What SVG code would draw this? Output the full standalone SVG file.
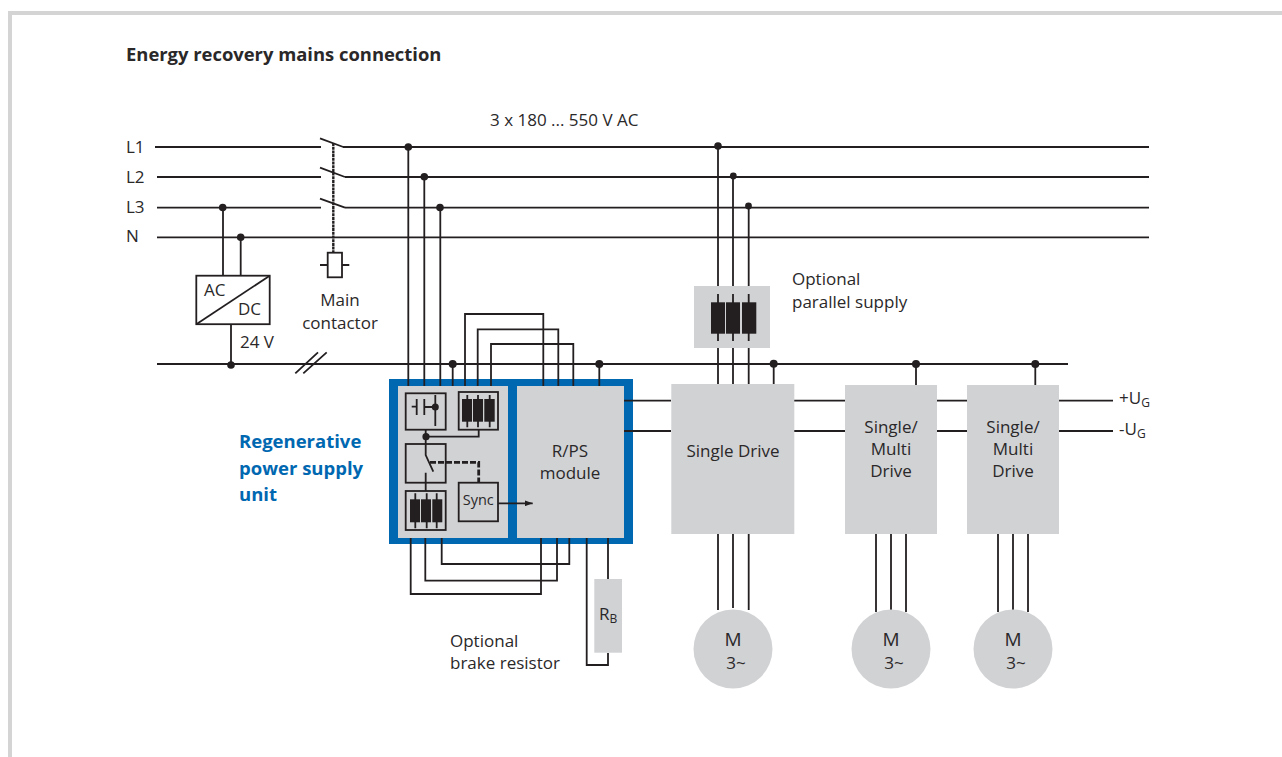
<svg xmlns="http://www.w3.org/2000/svg" width="1282" height="757" viewBox="0 0 1282 757">
<style>
text{font-family:"Open Sans","Noto Sans","Liberation Sans",sans-serif;font-size:17px;fill:#2a2829}
.m{text-anchor:middle}
.b{font-weight:700}
.title{font-size:18.4px}
.blue{font-size:18.5px;fill:#0067b1}
.big{font-size:19px}
.sy{font-size:14.5px}
.s{font-size:12px}
.l{fill:none;stroke:#231f20;stroke-width:1.8}
.box{fill:#d1d2d4;stroke:#231f20;stroke-width:1.8}
.g{fill:#d1d2d4}
.f{fill:#231f20}
</style>
<defs>
<marker id="arr" viewBox="0 0 8 6" refX="8" refY="3" markerWidth="8" markerHeight="6" markerUnits="userSpaceOnUse" orient="auto"><path d="M0 0L8 3L0 6Z" fill="#231f20"/></marker>
</defs>
<path d="M10 757V13H1282" fill="none" stroke="#d4d4d4" stroke-width="4"/>
<text class="b title" x="126" y="61">Energy recovery mains connection</text>
<g id="connectors">
<path class="l" d="M155 147H321M343 147H1149M157 177H321M345 177H1149M157 207.700H321M345 207.700H1149M157 237.300H1149M157 364H1068"/>
<path class="l" d="M320 138.300L343.300 147M320 167.700L345 177M320 198.700L345 207.700"/>
<path d="M333.300 143V253" fill="none" stroke="#231f20" stroke-width="2.400" stroke-dasharray="3 0.700"/>
<path class="l" d="M295.300 373.300L318 352.300M303.300 373.300L326.700 352.300"/>
<path class="l" d="M223 207.500V276M240.700 237.300V276M231 324V364"/>
<path class="l" d="M408.300 147V386M424.300 177V386M440.300 207.700V386M452.700 364V386M599.300 364V386"/>
<path class="l" d="M465 386V314H543.300V386M477.700 386V329.300H558.300V386M491 386V344H573.300V386"/>
<path class="l" d="M410.700 538V594H541V538M425.300 538V580.700H557V538M441.700 538V564H569.300V538M586.700 538V665H608V653M608 538V579"/>
<path class="l" d="M624 400.700H671M624 431H671M794 400.700H845M794 431H845M937 400.700H967M937 431H967M1059 400.700H1113M1059 431H1113"/>
<path class="l" d="M718 147V286M733 177V286M748.700 207V286M718 348V384M733 348V384M748.700 348V384M773.700 364V384M916 364V385M1035.300 364V385"/>
<path class="l" d="M718 534V610M733 534V608M748.700 534V610M876 534V612M891 534V610M906 534V612M998 534V612M1013 534V610M1028 534V612"/>
<g class="f">
<circle cx="408.300" cy="147" r="3.800"/><circle cx="424.300" cy="176.700" r="3.800"/><circle cx="440" cy="207.500" r="3.800"/>
<circle cx="718" cy="146" r="3.800"/><circle cx="733.300" cy="176" r="3.400"/><circle cx="748.500" cy="206" r="3.400"/>
<circle cx="222.700" cy="207.500" r="3.800"/><circle cx="240.700" cy="237.300" r="3.800"/><circle cx="231" cy="365" r="3.800"/>
<circle cx="452.700" cy="364" r="4"/><circle cx="599.300" cy="364" r="4"/><circle cx="773.700" cy="363.700" r="4"/><circle cx="916" cy="364" r="4"/><circle cx="1035.300" cy="364" r="4"/>
</g>
</g>
<g id="labels">
<text x="126" y="153">L1</text><text x="126" y="183">L2</text><text x="126" y="213">L3</text><text x="126" y="242">N</text>
<text x="490" y="126">3 x 180 ... 550 V AC</text>
<text x="792" y="285">Optional</text><text x="792" y="308">parallel supply</text>
<text x="450" y="647">Optional</text><text x="450" y="669">brake resistor</text>
<text x="240" y="348">24 V</text>
<text class="m" x="340" y="306">Main</text><text class="m" x="340" y="329">contactor</text>
<text x="1119" y="404">+U<tspan class="s" dy="3">G</tspan></text><text x="1119" y="435">-U<tspan class="s" dy="3">G</tspan></text>
<text class="b blue" x="239" y="448">Regenerative</text><text class="b blue" x="239" y="475">power supply</text><text class="b blue" x="239" y="501">unit</text>
</g>
<g id="acdc"><rect x="196.300" y="275.700" width="73.400" height="48.500" fill="#fff" stroke="#231f20" stroke-width="1.800"/><path class="l" d="M196.300 324.200L269.700 275.700"/><text x="204" y="296">AC</text><text x="238" y="315">DC</text></g>
<g id="coil"><rect class="l" x="327.700" y="252.700" width="14.300" height="24.600"/><path class="l" d="M320 265H327.700M342 265H349.300"/></g>
<g id="parallel-supply"><rect class="g" x="694" y="286" width="76" height="62"/><path class="l" d="M718 294V341M733 294V341M748.700 294V341"/><rect class="f" x="711" y="302.300" width="14" height="31.400"/><rect class="f" x="726" y="302.300" width="14" height="31.400"/><rect class="f" x="742" y="302.300" width="14.300" height="31.400"/></g>
<g id="regen-unit">
<rect x="389" y="379" width="244" height="165" fill="#0067b1"/>
<rect class="g" x="398" y="386" width="110" height="152"/>
<rect class="g" x="517" y="386" width="107" height="152"/>
<path class="l" d="M408.300 379V386M424.300 379V386M440.300 379V386M452.700 379V386M465 379V386M477.700 379V386M491 379V386M543.300 379V386M558.300 379V386M573.300 379V386M599.300 379V386M410.700 538V544M425.300 538V544M441.700 538V544M541 538V544M557 538V544M569.300 538V544M586.700 538V544M608 538V544M624 400.700H633M624 431H633"/>
<g id="contact"><rect class="box" x="405.700" y="393.300" width="40" height="36.400"/><path class="l" d="M411.700 406.700H416.700M416.700 399V415M424.300 399V415M424.300 407H435.300M435.300 395V426"/><circle class="f" cx="435.300" cy="407" r="3.500"/></g>
<g id="fuse-top"><rect class="box" x="458.700" y="392" width="39.300" height="37.700"/><path class="l" d="M467.300 395V427.300M478 395V427.300M489.700 395V427.300"/><rect class="f" x="462" y="399" width="10" height="22.700"/><rect class="f" x="473" y="399" width="10" height="22.700"/><rect class="f" x="484.300" y="399" width="10.400" height="22.700"/></g>
<g id="switch"><rect class="box" x="405.700" y="444" width="40" height="38.700"/><path class="l" d="M425.700 430V455L433.300 471.700M425.700 472.700V491"/><path d="M430 462.300H478.700V482.700" fill="none" stroke="#231f20" stroke-width="2.800" stroke-dasharray="6 2"/></g>
<path class="l" d="M426 436.700H478.700V429.700"/><circle class="f" cx="426" cy="436.700" r="3.600"/>
<g id="fuse-bottom"><rect class="box" x="405.700" y="491" width="40" height="39"/><path class="l" d="M415.300 493.300V528.300M426.700 493.300V528.300M436.700 493.300V528.300"/><rect class="f" x="410" y="499.300" width="10" height="23"/><rect class="f" x="421" y="499.300" width="10" height="23"/><rect class="f" x="432.300" y="499.300" width="10" height="23"/></g>
<g id="sync"><rect class="box" x="458.700" y="482.700" width="39.300" height="38.600"/><text class="m sy" x="478.300" y="505">Sync</text></g>
<path class="l" d="M498 503.300H532.700" marker-end="url(#arr)"/>
<text class="m" x="570" y="457">R/PS</text><text class="m" x="570" y="479">module</text>
</g>
<g id="rb"><rect class="g" x="594.300" y="579" width="27.700" height="73.700"/><text x="599" y="620">R<tspan class="s" dy="3">B</tspan></text></g>
<g id="single-drive"><rect class="g" x="671.300" y="384" width="123" height="150"/><text class="m" x="733" y="457">Single Drive</text></g>
<g id="multi-1"><rect class="g" x="845" y="385" width="92" height="149"/><text class="m" x="891" y="433">Single/</text><text class="m" x="891" y="455">Multi</text><text class="m" x="891" y="477">Drive</text></g>
<g id="multi-2"><rect class="g" x="967" y="385" width="92" height="149"/><text class="m" x="1013" y="433">Single/</text><text class="m" x="1013" y="455">Multi</text><text class="m" x="1013" y="477">Drive</text></g>
<g id="motor-1"><circle class="g" cx="733" cy="649" r="39.500"/><text class="m big" x="733" y="646">M</text><text class="m" x="736" y="669">3~</text></g>
<g id="motor-2"><circle class="g" cx="891" cy="649" r="39.500"/><text class="m big" x="891" y="646">M</text><text class="m" x="894" y="669">3~</text></g>
<g id="motor-3"><circle class="g" cx="1013" cy="649" r="39.500"/><text class="m big" x="1013" y="646">M</text><text class="m" x="1016" y="669">3~</text></g>
</svg>
